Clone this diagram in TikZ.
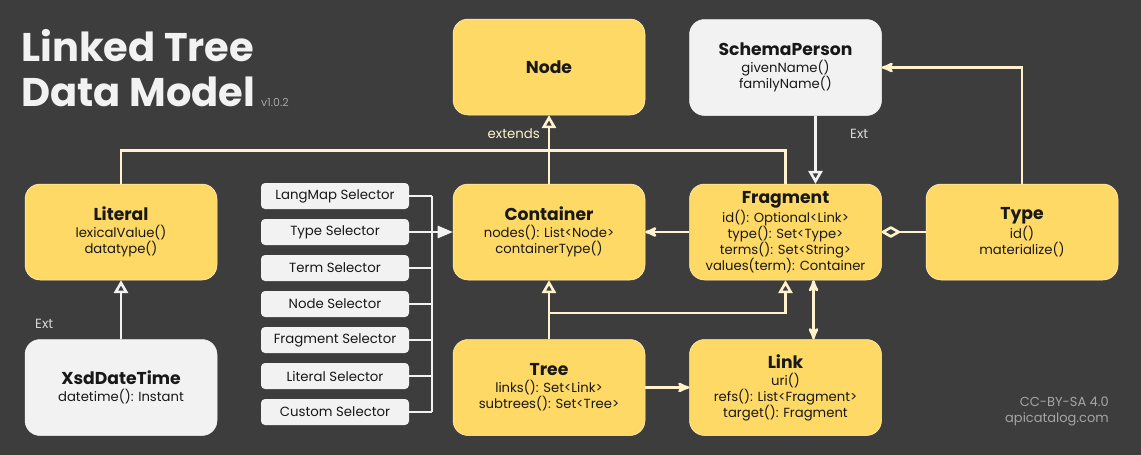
\documentclass[tikz,border=0pt]{standalone}
\usepackage{fontspec}
\setmainfont{Poppins}
\usetikzlibrary{arrows,positioning}
\definecolor{lt_bg}{RGB}{61, 61, 61}
\definecolor{lt_yellow}{RGB}{255, 217, 102}
\definecolor{lt_grey}{RGB}{242, 242, 242}
\definecolor{lt_cream}{RGB}{255, 242, 204}
\definecolor{lt_ink}{RGB}{24, 24, 24}
\definecolor{lt_note}{RGB}{165, 165, 165}
\tikzstyle{yn}=[rectangle,rounded corners=15pt,fill=lt_yellow,draw=lt_cream,
  line width=0.5pt,inner sep=0pt,minimum width=192pt,minimum height=96pt,
  align=center,text=lt_ink,font=\fontsize{13.2}{16}\selectfont]
\tikzstyle{wn}=[yn,fill=lt_grey,draw=lt_grey]
\tikzstyle{sn}=[rectangle,rounded corners=4pt,fill=lt_grey,inner sep=0pt,
  minimum width=148pt,minimum height=26pt,text=lt_ink,
  font=\fontsize{13.3}{16}\selectfont]
\tikzstyle{cl}=[draw=lt_cream,line width=2.6pt]
\tikzstyle{wl}=[draw=lt_grey,line width=2.6pt]
\tikzstyle{lbl}=[inner sep=0pt,font=\fontsize{13.3}{16}\selectfont]
\tikzstyle{none}=[]
\newcommand{\ttl}[1]{{\fontsize{17.2}{20}\selectfont\bfseries #1}}

\begin{document}
\begin{tikzpicture}[x=1pt, y=-1pt]
            \path [use as bounding box, fill=lt_bg] (0, 0) rectangle (1141, 455);
            \node [style=yn] (0) at (549, 67) {\ttl{Node}};
            \node [style=wn] (1) at (785.5, 67.5) {\ttl{SchemaPerson}\\[1pt] givenName()\\ familyName()};
            \node [style=yn] (2) at (121, 232) {\ttl{Literal}\\[1pt] lexicalValue()\\ datatype()};
            \node [style=yn] (3) at (549, 232) {\ttl{Container}\\[1pt] nodes(): List<Node>\\ containerType()};
            \node [style=yn] (4) at (785.5, 232) {\ttl{Fragment}\\[1pt] id(): Optional<Link>\\ type(): Set<Type>\\ terms(): Set<String>\\ values(term): Container};
            \node [style=yn] (5) at (1022, 232) {\ttl{Type}\\[1pt] id()\\ materialize()};
            \node [style=wn] (6) at (121, 387.5) {\ttl{XsdDateTime}\\[1pt] datetime(): Instant};
            \node [style=yn] (7) at (549, 387.5) {\ttl{Tree}\\[1pt] links(): Set<Link>\\ subtrees(): Set<Tree>};
            \node [style=yn] (8) at (785.5, 387.5) {\ttl{Link}\\[1pt] uri()\\ refs(): List<Fragment>\\ target(): Fragment};
            \coordinate (9) at (432, 196);
            \coordinate (10) at (432, 412);
            \coordinate (11) at (432, 232);
            \coordinate (12) at (549, 313);
            \node [style=lbl, text=lt_cream, anchor=base east] (13) at (540, 138) {extends};
            \node [style=lbl, text=lt_grey!85!lt_bg, anchor=base west] (14) at (850, 138) {Ext};
            \node [style=lbl, text=lt_grey!85!lt_bg, anchor=base west] (15) at (35, 328) {Ext};
            \node [style=none, inner sep=0pt, text=lt_grey, anchor=base west, font=\fontsize{40}{44}\selectfont\bfseries] (16) at (21, 61) {Linked Tree};
            \node [style=none, inner sep=0pt, text=lt_grey, anchor=base west, font=\fontsize{40}{44}\selectfont\bfseries] (17) at (21, 106) {Data Model};
            \node [style=none, inner sep=0pt, text=lt_note, anchor=base west, font=\fontsize{11}{13}\selectfont] (18) at (261, 106) {v1.0.2};
            \node [style=none, inner sep=0pt, text=lt_note, anchor=east, align=right, font=\fontsize{13}{16}\selectfont] (19) at (1109, 411) {CC-BY-SA 4.0\\ apicatalog.com};
            \foreach \s [count=\i] in {LangMap, Type, Term, Node, Fragment, Literal, Custom} {
                \node [style=sn] (s\i) at (335, 160+36*\i) {\s{} Selector};
                \draw [style=wl] (s\i) -- (s\i -| 9);
            }
            \draw [style=wl] (9) -- (10);
            \draw [style=wl, -triangle 45] (11) -- (3);
            \draw [style=cl, -open triangle 60] (3) -- (0);
            \draw [style=cl] (2.north) -- ++(0, -33) -| (4.north);
            \draw [style=wl, -open triangle 60] ([xshift=30pt]1.south) -- ([xshift=30pt]4.north);
            \draw [style=cl, -stealth'] (5) |- (1);
            \draw [style=cl, open diamond-] (4) -- (5);
            \draw [style=cl, -stealth'] (4) -- (3);
            \draw [style=cl, -open triangle 60] (7) -- (3);
            \draw [style=cl, -open triangle 60] (12) -| (4);
            \draw [style=cl, stealth'-stealth'] ([xshift=28pt]8.north) -- ([xshift=28pt]4.south);
            \draw [style=cl, -stealth'] (7) -- (8);
            \draw [style=wl, -open triangle 60] (6) -- (2);
    \end{tikzpicture}
\end{document}
